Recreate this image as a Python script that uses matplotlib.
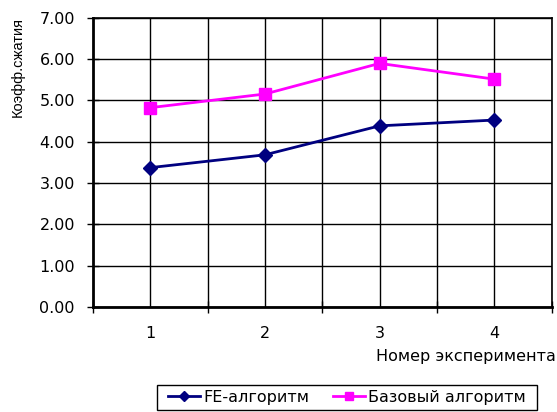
import matplotlib
matplotlib.use("Agg")
import matplotlib.pyplot as plt
from matplotlib.patches import Rectangle
import numpy as np

categories = ["1", "2", "3", "4"]
fe_values = [3.37, 3.68, 4.38, 4.52]
base_values = [4.82, 5.15, 5.89, 5.51]
series_names = ["FE-алгоритм", "Базовый алгоритм"]
yticks = [0, 1, 2, 3, 4, 5, 6, 7]

plt.rcParams['font.family'] = ['DejaVu Sans']
plt.rcParams['font.size'] = 11.5

W, H = 557, 412
fig = plt.figure(figsize=(W / 100, H / 100), dpi=100)
left, right, top, bottom = 93, 551.5, 17.5, 307
ax = fig.add_axes([left / W, 1 - bottom / H, (right - left) / W, (bottom - top) / H])

x = np.arange(1, len(categories) + 1)
ax.plot(x, fe_values, color="#000080", marker="D", markersize=7, linewidth=2,
        label=series_names[0], zorder=3)
ax.plot(x, base_values, color="#FF00FF", marker="s", markersize=8, linewidth=2,
        label=series_names[1], zorder=3)

ax.set_xlim(0.5, len(categories) + 0.5)
ax.set_ylim(0, 7)
ax.set_yticks(yticks)
ax.set_yticklabels([f"{v:.2f}" for v in yticks])
ax.set_xticks(x)
ax.set_xticklabels(categories)
ax.set_xticks(np.arange(0.5, len(categories) + 1, 1.0), minor=True)

# gridlines
for v in yticks:
    ax.axhline(v, color="black", linewidth=1, zorder=1)
for v in np.arange(1, len(categories) + 0.6, 0.5):
    ax.axvline(v, color="black", linewidth=1, zorder=1)

ax.tick_params(axis="x", which="major", length=0, pad=14)
ax.tick_params(axis="x", which="minor", direction="inout", length=8, width=1)
ax.tick_params(axis="y", direction="inout", length=8, width=1, pad=9)

for s in ["top", "right"]:
    ax.spines[s].set_linewidth(1.2)
for s in ["left", "bottom"]:
    ax.spines[s].set_linewidth(2)

fig.text(18 / W, 1 - 67 / H, "Коэфф.сжатия", rotation=90, ha="center", va="center",
         fontsize=10.5, family="Liberation Sans")
fig.text(556 / W, 1 - 356 / H, "Номер эксперимента", ha="right", va="center")

leg = fig.legend(loc="center", bbox_to_anchor=(347 / W, 1 - 397.5 / H), ncol=2,
                 frameon=False, handlelength=2.0, columnspacing=1.5,
                 handletextpad=0.2, borderpad=0.25, markerscale=0.75)
fig.patches.append(Rectangle((157 / W, 1 - 410 / H), (537 - 157) / W, 25 / H,
                             transform=fig.transFigure, fill=False,
                             edgecolor="black", linewidth=1))

fig.savefig("out.png", dpi=100)
